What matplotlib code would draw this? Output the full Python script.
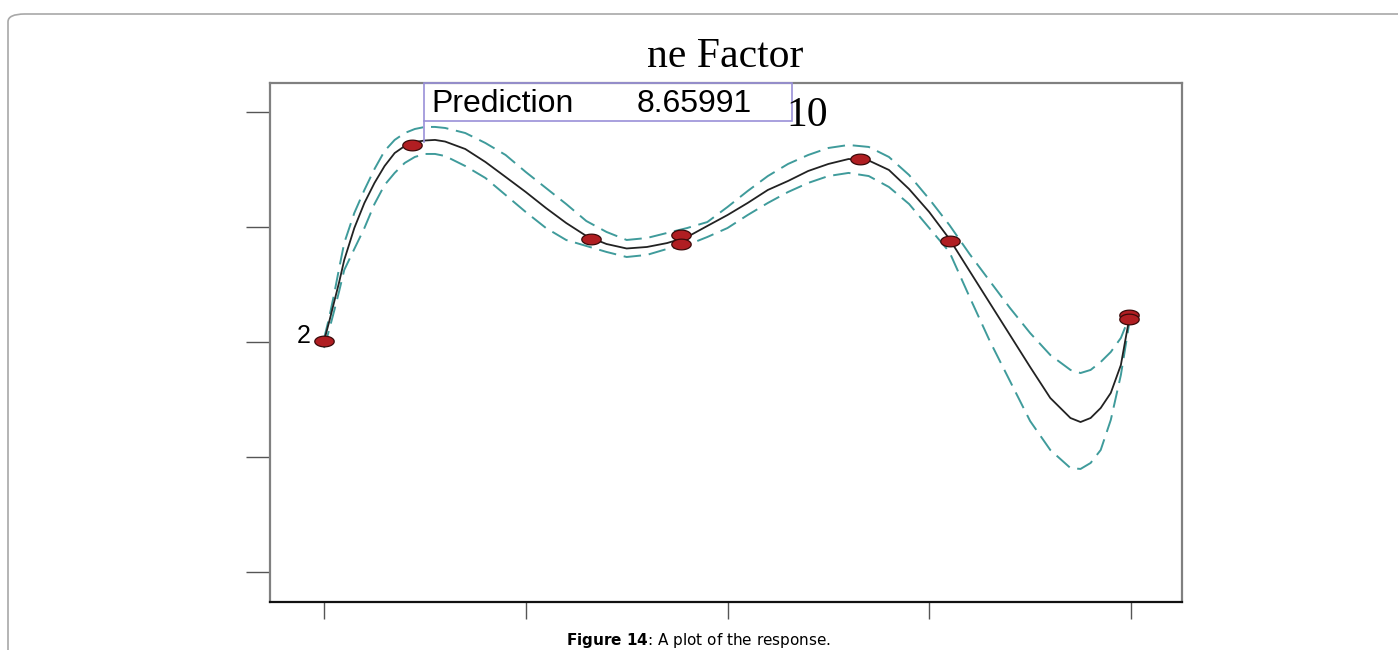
import matplotlib.pyplot as plt
import numpy as np
from matplotlib.patches import FancyBboxPatch, Rectangle
from matplotlib.path import Path

# design points (factor level, response)
pt_x = [0.0, 0.436, 1.323, 1.77, 1.77, 2.657, 3.103, 3.99, 3.99]
pt_y = [2.01, 3.713, 2.896, 2.930, 2.852, 3.591, 2.878, 2.235, 2.20]

grid_x = [0.0, 0.025, 0.05, 0.075, 0.1, 0.15, 0.2, 0.25, 0.3, 0.35, 0.4, 0.45, 0.5, 0.55, 0.6,
          0.7, 0.8, 0.9, 1.0, 1.1, 1.2, 1.3, 1.4, 1.5, 1.6, 1.7, 1.8, 1.9, 2.0, 2.1, 2.2,
          2.3, 2.4, 2.5, 2.6, 2.7, 2.8, 2.9, 3.0, 3.1, 3.2, 3.3, 3.4, 3.5, 3.6, 3.7,
          3.75, 3.8, 3.85, 3.9, 3.95, 3.99]

# fitted response
fit_y = [2.009, 2.174, 2.348, 2.522, 2.713, 2.991, 3.209, 3.383, 3.530, 3.643, 3.704, 3.739,
         3.752, 3.757, 3.743,
         3.678, 3.565, 3.435, 3.304, 3.165, 3.035, 2.922, 2.852, 2.813, 2.826, 2.860, 2.913,
         3.009, 3.104, 3.209, 3.322, 3.400, 3.487, 3.548, 3.591, 3.578, 3.496, 3.330, 3.130,
         2.896, 2.617, 2.339, 2.061, 1.783, 1.513, 1.339,
         1.304, 1.339, 1.426, 1.557, 1.800, 2.191]

# upper confidence limit
up_y = [2.03, 2.209, 2.417, 2.643, 2.861, 3.122, 3.322, 3.504, 3.661, 3.757, 3.817, 3.852,
        3.870, 3.870, 3.861,
        3.817, 3.730, 3.626, 3.478, 3.339, 3.200, 3.052, 2.957, 2.887, 2.904, 2.948, 2.991,
        3.043, 3.174, 3.313, 3.443, 3.548, 3.626, 3.687, 3.713, 3.696, 3.609, 3.452, 3.243,
        3.017, 2.765, 2.530, 2.296, 2.078, 1.887, 1.757,
        1.730, 1.757, 1.826, 1.913, 2.035, 2.209]

# lower confidence limit
lo_y = [1.948, 2.104, 2.270, 2.443, 2.626, 2.809, 2.991, 3.200, 3.365, 3.470, 3.557, 3.609,
        3.635, 3.635, 3.617,
        3.530, 3.426, 3.278, 3.130, 2.991, 2.887, 2.835, 2.783, 2.739, 2.757, 2.809, 2.843,
        2.913, 2.991, 3.104, 3.209, 3.304, 3.383, 3.443, 3.470, 3.443, 3.348, 3.200, 2.991,
        2.783, 2.391, 2.009, 1.661, 1.313, 1.061, 0.904,
        0.896, 0.948, 1.061, 1.322, 1.713, 2.148]

xticks = [0, 1, 2, 3, 4]
yticks = [0, 1, 2, 3, 4]

fig = plt.figure(figsize=(13.98, 6.5), dpi=100)

# page frame with rounded corner
frame = FancyBboxPatch((8/1398, -0.2), 1.2, 1.2 - 14/650,
                       boxstyle="round,pad=0,rounding_size=0.012",
                       transform=fig.transFigure, fill=False,
                       edgecolor='#a8a8a8', linewidth=1.2)
fig.patches.append(frame)

ax = fig.add_axes([270/1398, 1 - 602/650, 912/1398, 519/650])
ax.set_xlim(-0.268, 4.253)
ax.set_ylim(-0.261, 4.252)

teal = '#3f9b9b'
ax.plot(grid_x, up_y, color=teal, lw=1.4, dashes=(9, 4))
ax.plot(grid_x, lo_y, color=teal, lw=1.4, dashes=(9, 4))
ax.plot(grid_x, fit_y, color='#222222', lw=1.3)

# ellipse marker
t = np.linspace(0, 2*np.pi, 40)
ell = Path(np.column_stack([np.cos(t), 0.55*np.sin(t)]))
ax.plot(pt_x, pt_y, ls='none', marker=ell, ms=14, mfc='#b01e22', mec='#3a0a0a',
        mew=0.9, zorder=5)

ax.set_xticks(xticks)
ax.set_yticks(yticks)
ax.set_xticklabels([])
ax.set_yticklabels([])
ax.tick_params(axis='y', direction='out', length=17, width=1, color='#555555')
ax.tick_params(axis='x', direction='out', length=12, width=1, color='#555555')
for s in ['left', 'top', 'right']:
    ax.spines[s].set_color('#808080')
    ax.spines[s].set_linewidth(1.6)
ax.spines['bottom'].set_color('#111111')
ax.spines['bottom'].set_linewidth(1.6)

ax.text(-0.065, 2.05, '2', ha='right', va='center', fontsize=18,
        family='Liberation Sans')

# prediction box
box = Rectangle((424/1398, 1 - 121/650), 368/1398, 38/650, transform=fig.transFigure,
                fill=False, edgecolor='#9990d8', linewidth=1.2)
fig.patches.append(box)
fig.add_artist(plt.Line2D([424/1398, 424/1398], [1 - 121/650, 1 - 142/650],
                          transform=fig.transFigure, color='#9990d8', lw=1.2))
fig.text(431/1398, 1 - 104/650, 'Prediction', fontsize=23, va='center',
         family='Liberation Sans')
fig.text(752/1398, 1 - 104/650, '8.65991', fontsize=23, va='center', ha='right',
         family='Liberation Sans')

fig.text(725/1398, 1 - 57/650, 'ne Factor', fontsize=30, ha='center', va='center',
         family='Liberation Serif')
fig.text(807/1398, 1 - 116/650, '10', fontsize=30, ha='center', va='center',
         family='Liberation Serif')

fig.text(0.5, 1 - 641/650, r'$\bf{Figure\ 14}$: A plot of the response.', fontsize=11,
         ha='center', va='center')

fig.savefig('out.png', dpi=100)
